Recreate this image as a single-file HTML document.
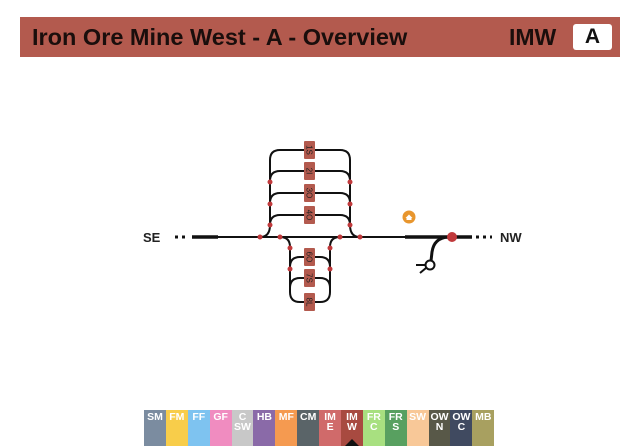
<!DOCTYPE html>
<html><head><meta charset="utf-8"><style>
body{margin:0;width:640px;height:446px;background:#fff;position:relative;overflow:hidden;font-family:"Liberation Sans",sans-serif}
.hdr{position:absolute;left:20px;top:17px;width:600px;height:40px;background:#b35a4e}
.hdr .t{position:absolute;left:12px;top:7px;font-size:23.5px;font-weight:bold;color:#1a0e0c}
.hdr .i{position:absolute;left:489px;top:7px;font-size:23px;font-weight:bold;color:#1a0e0c}
.hdr .b{position:absolute;left:553px;top:7px;width:39px;height:26px;background:#fff;border-radius:3px;text-align:center;font-size:21px;font-weight:bold;line-height:26px;color:#111}
.tabs{position:absolute;left:144px;top:410px;height:36px;display:flex}
.tabs div{width:21.9px;height:36px;color:#fff;font-weight:bold;font-size:10.5px;text-align:center;line-height:10px;padding-top:2px;box-sizing:border-box}
</style></head><body>
<div class="hdr"><div class="t">Iron Ore Mine West - A - Overview</div><div class="i">IMW</div><div class="b">A</div></div>
<svg width="640" height="446" style="position:absolute;left:0;top:0">
<g fill="none" stroke="#111" stroke-width="2">
<line x1="218" y1="237" x2="405" y2="237"/>
<line x1="192" y1="237" x2="218" y2="237" stroke-width="3.5"/>
<line x1="405" y1="237" x2="472" y2="237" stroke-width="3.5"/>
<line x1="175" y1="237" x2="188" y2="237" stroke-dasharray="3,4" stroke-width="3"/>
<line x1="476" y1="237" x2="492" y2="237" stroke-dasharray="3,4" stroke-width="3"/>
<path d="M260 237 Q270 237 270 225 L270 160 Q270 150 280 150 L340 150 Q350 150 350 160 L350 225 Q350 237 360 237"/>
<path d="M270 181 Q270 171 280 171 L340 171 Q350 171 350 181"/>
<path d="M270 203 Q270 193 280 193 L340 193 Q350 193 350 203"/>
<path d="M270 225 Q270 215 280 215 L340 215 Q350 215 350 225"/>
<path d="M280 237 Q290 237 290 247 L290 292 Q290 302 300 302 L320 302 Q330 302 330 292 L330 247 Q330 237 340 237"/>
<path d="M290 267 Q290 257 300 257 L320 257 Q330 257 330 267"/>
<path d="M290 288 Q290 278 300 278 L320 278 Q330 278 330 288"/>
<path d="M448 237 Q434 238 432 252 L431 261" stroke-width="3"/>
<circle cx="430" cy="265" r="4.5" stroke-width="2"/>
<line x1="416" y1="265" x2="425" y2="265"/>
<line x1="420" y1="273" x2="426" y2="268"/>
</g>
<g fill="#c0393b">
<circle cx="260" cy="237" r="2.5"/><circle cx="280" cy="237" r="2.5"/><circle cx="340" cy="237" r="2.5"/><circle cx="360" cy="237" r="2.5"/>
<circle cx="270" cy="182" r="2.5"/><circle cx="270" cy="204" r="2.5"/><circle cx="270" cy="225" r="2.5"/>
<circle cx="350" cy="182" r="2.5"/><circle cx="350" cy="204" r="2.5"/><circle cx="350" cy="225" r="2.5"/>
<circle cx="290" cy="269" r="2.5"/><circle cx="330" cy="269" r="2.5"/>
<circle cx="290" cy="248" r="2.5"/><circle cx="330" cy="248" r="2.5"/>
<circle cx="452" cy="237" r="5"/>
</g>
<g fill="#b35a4e">
<rect x="304" y="141" width="11" height="18" rx="1"/><rect x="304" y="162" width="11" height="18" rx="1"/>
<rect x="304" y="184" width="11" height="18" rx="1"/><rect x="304" y="206" width="11" height="18" rx="1"/>
<rect x="304" y="248" width="11" height="18" rx="1"/><rect x="304" y="269" width="11" height="18" rx="1"/>
<rect x="304" y="293" width="11" height="18" rx="1"/>
</g>
<g font-size="8" font-family="Liberation Sans" fill="#222" text-anchor="middle">
<text transform="translate(306.5,150) rotate(90)">1S</text>
<text transform="translate(306.5,171) rotate(90)">2I</text>
<text transform="translate(306.5,193) rotate(90)">3O</text>
<text transform="translate(306.5,215) rotate(90)">4O</text>
<text transform="translate(306.5,257) rotate(90)">6O</text>
<text transform="translate(306.5,278) rotate(90)">7S</text>
<text transform="translate(306.5,302) rotate(90)">8L</text>
</g>
<circle cx="409" cy="217" r="6.5" fill="#e8962e"/>
<path d="M405.5 218 L409 214.5 L412.5 218 L411.5 218 L411.5 220 L406.5 220 L406.5 218 Z" fill="#fff"/>
<text x="143" y="242" font-size="13" font-weight="bold" fill="#222">SE</text>
<text x="500" y="242" font-size="13" font-weight="bold" fill="#222">NW</text>
</svg>
<div class="tabs">
<div style="background:#7b8ca0">SM</div><div style="background:#f8cd4a">FM</div><div style="background:#7ec3f0">FF</div><div style="background:#f08cc0">GF</div><div style="background:#c8c8c8">C<br>SW</div><div style="background:#8a6aa8">HB</div><div style="background:#f59a50">MF</div><div style="background:#5a6468">CM</div><div style="background:#d06a6a">IM<br>E</div><div style="background:#a84a40">IM<br>W</div><div style="background:#a8e080">FR<br>C</div><div style="background:#58a060">FR<br>S</div><div style="background:#f8c898">SW</div><div style="background:#585848">OW<br>N</div><div style="background:#404a60">OW<br>C</div><div style="background:#a8a060">MB</div>
</div>
<svg width="640" height="446" style="position:absolute;left:0;top:0;pointer-events:none"><polygon points="345,446 352,439 359,446" fill="#111"/></svg>
</body></html>
